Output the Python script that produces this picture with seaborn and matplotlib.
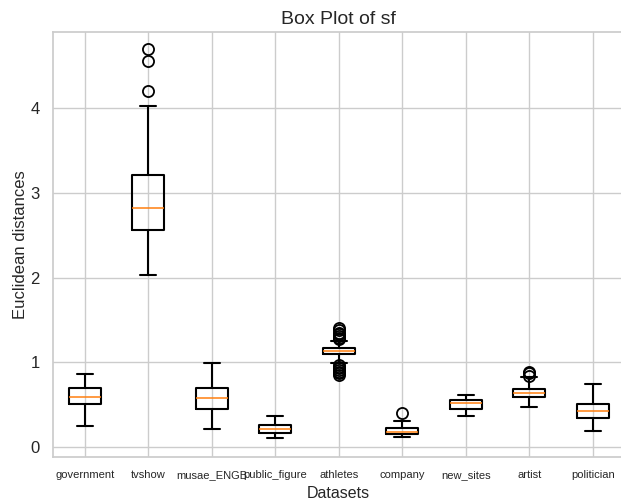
import matplotlib
matplotlib.use("Agg")
import matplotlib.pyplot as plt
import seaborn as sns

# Summary statistics per dataset (Euclidean distances)
datasets = ["government", "tvshow", "musae_ENGB", "public_figure", "athletes",
            "company", "new_sites", "artist", "politician"]
whisker_low = [0.248, 2.03, 0.216, 0.110, 0.988, 0.122, 0.366, 0.472, 0.192]
q1 = [0.504, 2.56, 0.452, 0.165, 1.094, 0.153, 0.452, 0.594, 0.346]
median = [0.590, 2.825, 0.578, 0.216, 1.133, 0.181, 0.523, 0.641, 0.421]
q3 = [0.693, 3.21, 0.700, 0.256, 1.172, 0.220, 0.551, 0.688, 0.511]
whisker_high = [0.858, 4.03, 0.988, 0.366, 1.255, 0.310, 0.618, 0.826, 0.744]
outliers = [
    [],
    [4.20, 4.56, 4.695],
    [],
    [],
    [0.85, 0.87, 0.89, 0.91, 0.93, 0.95, 0.97,
     1.27, 1.29, 1.31, 1.33, 1.35, 1.38, 1.40],
    [0.398],
    [],
    [0.838, 0.87, 0.889],
    [],
]

sns.set_theme(style="whitegrid")
plt.rcParams["font.family"] = ["Liberation Sans", "DejaVu Sans"]

fig = plt.figure(figsize=(6.21, 5.04), dpi=100)
ax = fig.add_axes([0.0853, 0.0933, 0.9203, 0.8432])

stats = [
    dict(label=name, whislo=lo, q1=a, med=m, q3=b, whishi=hi, fliers=fl)
    for name, lo, a, m, b, hi, fl in zip(datasets, whisker_low, q1, median,
                                          q3, whisker_high, outliers)
]
ax.bxp(stats, widths=0.5,
       boxprops=dict(color="black", linewidth=1.5),
       whiskerprops=dict(color="black", linewidth=1.5),
       capprops=dict(color="black", linewidth=1.5),
       medianprops=dict(color="#ff7f0e", linewidth=1.1),
       flierprops=dict(marker="o", markerfacecolor="none",
                       markeredgecolor="black", markersize=8,
                       markeredgewidth=1.3))

ax.set_xlim(0.5, 9.5)
ax.set_ylim(-0.118, 4.90)
ax.set_yticks([0, 1, 2, 3, 4])
ax.tick_params(axis="x", labelsize=8)
ax.tick_params(axis="y", labelsize=12)
ax.set_title("Box Plot of sf", fontsize=14)
ax.set_xlabel("Datasets", fontsize=11.5, labelpad=4)
ax.set_ylabel("Euclidean distances", fontsize=12, labelpad=2)

fig.savefig("out.png", dpi=100)
